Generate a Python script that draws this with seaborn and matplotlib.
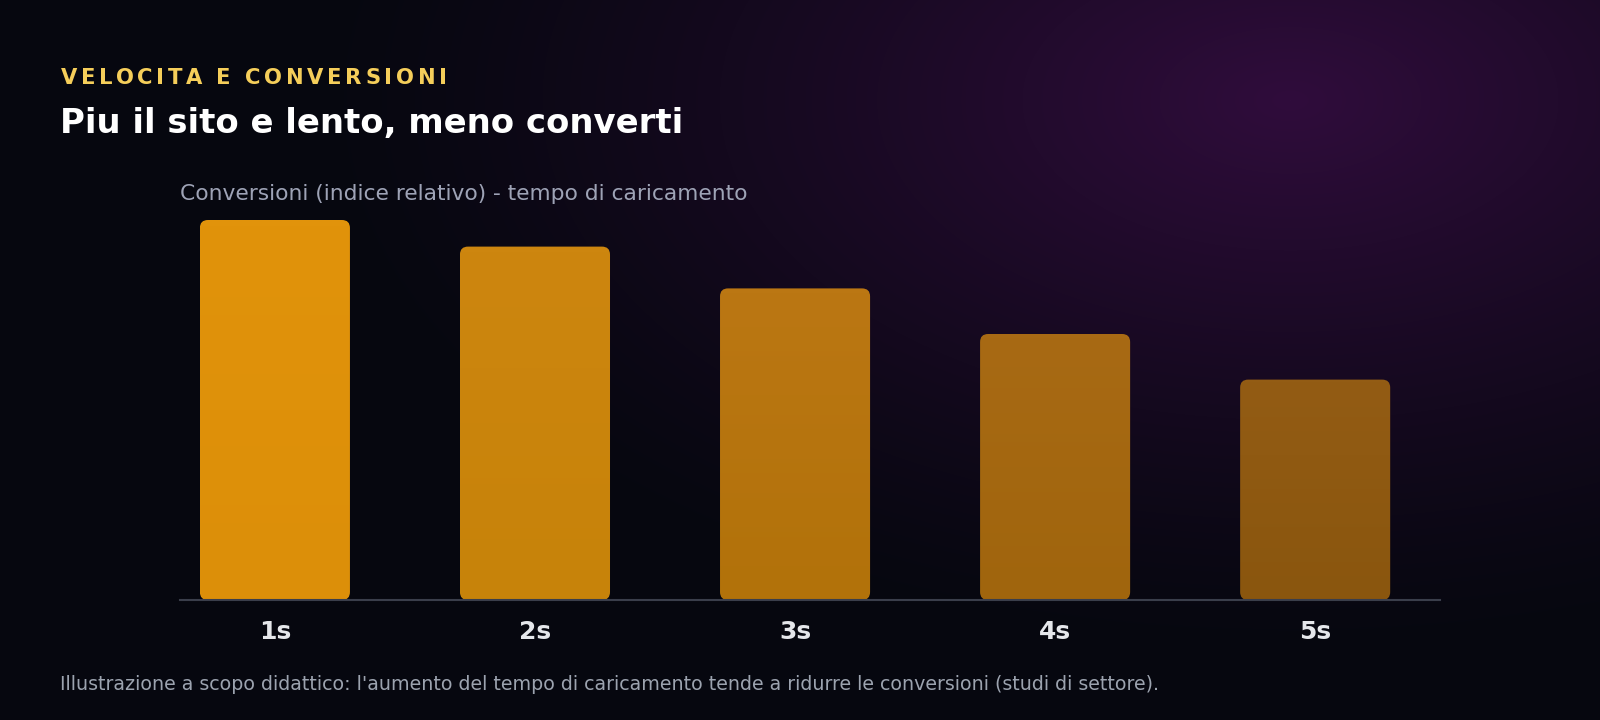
import numpy as np
import pandas as pd
import seaborn as sns
import matplotlib.pyplot as plt
from matplotlib.patches import FancyBboxPatch
from matplotlib.colors import to_rgb

# --- data ---
load_times = ["1s", "2s", "3s", "4s", "5s"]
conversions = [100, 93, 82, 70, 58]
bar_top_colors = ["#E1930B", "#CD860F", "#BB7713", "#A86A14", "#935C14"]
bar_bottom_colors = ["#DC8F09", "#C7830A", "#B2720A", "#A0650D", "#8A560E"]

eyebrow = "VELOCITA E CONVERSIONI"
title = "Piu il sito e lento, meno converti"
subtitle = "Conversioni (indice relativo) - tempo di caricamento"
footnote = ("Illustrazione a scopo didattico: l'aumento del tempo di caricamento "
            "tende a ridurre le conversioni (studi di settore).")

sns.set_theme(style="white")
plt.rcParams["font.family"] = ["DejaVu Sans"]

W, H = 1600, 720
fig = plt.figure(figsize=(16, 7.2), dpi=100)

# --- background: dark base with a purple radial glow top right ---
bg_ax = fig.add_axes([0, 0, 1, 1], zorder=-10)
yy, xx = np.mgrid[0:H, 0:W]
d = np.sqrt(((xx - 1290) / 1000.0) ** 2 + ((yy - 100) / 560.0) ** 2)
glow = np.clip(1 - d, 0, 1) ** 1.3
base = np.array(to_rgb("#06070F"))
purple = np.array(to_rgb("#300D3C"))
img = base[None, None, :] + glow[..., None] * (purple - base)[None, None, :]
bg_ax.imshow(img, extent=[0, W, H, 0], aspect="auto")
bg_ax.set_axis_off()

# --- chart axes ---
ax = fig.add_axes([180 / W, 120 / H, 1260 / W, 380 / H])
ax.patch.set_alpha(0)
df = pd.DataFrame({"time": load_times, "conv": conversions})
sns.barplot(data=df, x="time", y="conv", hue="time", palette=bar_top_colors,
            legend=False, width=0.577, ax=ax)

# replace bars with rounded, slightly graded ones
px_x = 1260 / (4.48 + 0.365)
px_y = 380 / 100
r = 8
for i, p in enumerate(list(ax.patches)):
    x0, y0 = p.get_x(), p.get_y()
    w, h = p.get_width(), p.get_height()
    p.set_visible(False)
    box = FancyBboxPatch((x0, y0), w, h,
                         boxstyle=f"round,pad=0,rounding_size={r / px_x}",
                         mutation_aspect=(r / px_y) / (r / px_x),
                         facecolor="none", edgecolor="none")
    ax.add_patch(box)
    top = np.array(to_rgb(bar_top_colors[i]))
    bot = np.array(to_rgb(bar_bottom_colors[i]))
    t = np.linspace(0, 1, 64)[:, None]
    grad = (top * (1 - t) + bot * t)[:, None, :]
    im = ax.imshow(grad, extent=[x0, x0 + w, y0, y0 + h], aspect="auto",
                   origin="upper", zorder=2)
    im.set_clip_path(box)
ax.set_xlim(-0.365, 4.48)
ax.set_ylim(0, 100)

for s in ["top", "right", "left"]:
    ax.spines[s].set_visible(False)
ax.spines["bottom"].set_color("#3A3E4B")
ax.spines["bottom"].set_linewidth(1.5)
ax.set_yticks([])
ax.set_xlabel("")
ax.set_ylabel("")
ax.tick_params(axis="x", length=0, pad=14.5, labelsize=18, colors="#E5E7EB")
for lab in ax.get_xticklabels():
    lab.set_fontweight("bold")

# --- texts ---
# eyebrow with letter spacing: place each char at its prefix advance + spacing
renderer = fig.canvas.get_renderer()
eb_kw = dict(color="#F5CE5A", fontsize=15.2, fontweight="bold", va="center", ha="left")
probe = fig.text(0, 0, eyebrow, **eb_kw)
natural = probe.get_window_extent(renderer).width
probe.remove()
ls = (386 - natural) / (len(eyebrow) - 1)
for k, ch in enumerate(eyebrow):
    if k == 0:
        off = 0
    else:
        pt = fig.text(0, 0, eyebrow[:k] + "|", **eb_kw)
        pb = fig.text(0, 0, "|", **eb_kw)
        off = pt.get_window_extent(renderer).width - pb.get_window_extent(renderer).width
        pt.remove()
        pb.remove()
    fig.text((61 + off + k * ls) / W, 1 - 78.5 / H, ch, **eb_kw)

fig.text(60 / W, 1 - 123 / H, title, color="white", fontsize=24.4,
         fontweight="bold", va="center", ha="left")
fig.text(180 / W, 1 - 194 / H, subtitle, color="#9EA3B6", fontsize=15.7,
         va="center", ha="left")
fig.text(60 / W, 1 - 684 / H, footnote, color="#9CA3AF", fontsize=13.7,
         va="center", ha="left")

fig.savefig("out.png", dpi=100)
